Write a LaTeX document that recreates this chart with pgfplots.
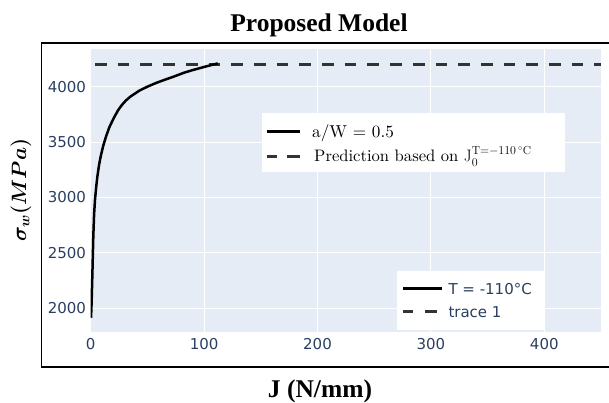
\documentclass[border=0pt]{standalone}
\usepackage{amsmath}
\usepackage{fontspec}
\usepackage{bm}
\usepackage{pgfplots}
\pgfplotsset{compat=1.18}
\newfontfamily\dejavu{DejaVu Sans}
\newfontfamily\libserif{Liberation Serif}
\newfontfamily\lmten{lmroman10-regular.otf}
\definecolor{plotbg}{HTML}{E5ECF6}
\definecolor{ticktext}{HTML}{2A3F5F}
\definecolor{dashc}{HTML}{333333}
\begin{document}
\begin{tikzpicture}[x=1pt,y=1pt]
\path[use as bounding box] (0pt,0pt) rectangle (609pt,403pt);
\begin{axis}[
  at={(90.7pt,71.3pt)}, anchor=south west,
  scale only axis, width=510.3pt, height=282.7pt,
  xmin=0, xmax=450, ymin=1789, ymax=4340,
  xtick={0,100,200,300,400}, ytick={2000,2500,3000,3500,4000},
  axis background/.style={fill=plotbg},
  axis line style={draw=none},
  major tick length=0pt,
  grid=major, major grid style={white, line width=1pt},
  /pgf/number format/assume math mode=true,
  /pgf/number format/1000 sep={},
  tick label style={font=\dejavu\fontsize{15}{18}\selectfont, text=ticktext},
  yticklabel style={inner sep=4.5pt},
  xticklabel style={yshift=-3pt},
]
\addplot[dashc, line width=2.6pt, dash pattern=on 11.7pt off 11pt, dash phase=18.4pt] coordinates {(0,4200) (450,4200)};
\addplot[black, line width=2.5pt, line join=round] coordinates {
(0.3,1915) (0.8,2050) (1.2,2200) (1.7,2400) (2.3,2650) (3.0,2850) (3.8,2980)
(5.0,3110) (5.9,3190) (7.3,3290) (8.8,3370) (11,3465) (13.5,3550) (16.5,3635)
(20,3710) (24,3785) (27.5,3835) (31,3875) (35,3910) (43,3965) (50,4000)
(58,4035) (66,4065) (73,4090) (82,4125) (90,4150) (100,4178) (112,4210)};
\end{axis}
% frame
\draw[line width=1.8pt] (41.5pt,35.7pt) rectangle (620pt,359.7pt);
% title
\node[anchor=base, inner sep=0] at (319pt,371pt) {\libserif\bfseries\fontsize{25.5}{30}\selectfont Proposed Model};
% x label
\node[anchor=base, inner sep=0] at (320pt,5.5pt) {\libserif\bfseries\fontsize{25.5}{30}\selectfont J (N/mm)};
% y label
\node[rotate=90, inner sep=0] at (21pt,213pt) {\fontsize{21}{25}\selectfont $\bm{\sigma_w(MPa)}$};
% legend 1
\fill[white] (261.7pt,231.3pt) rectangle (565pt,290pt);
\draw[black, line width=2.5pt] (266.7pt,271.3pt) -- (300pt,271.3pt);
\draw[dashc, line width=2.5pt] (266.7pt,246.3pt) -- (276.7pt,246.3pt);
\draw[dashc, line width=2.5pt] (287pt,246.3pt) -- (300pt,246.3pt);
\node[anchor=base west, inner sep=0, text=black] at (312pt,265.7pt) {\lmten\fontsize{17.2}{20}\selectfont a/W = 0.5};
\node[anchor=base west, inner sep=0, text=black] at (314pt,241.3pt) {\lmten\fontsize{16.6}{20}\selectfont Prediction based on $\mathrm{J}_0^{\mathrm{T}=-110\,{}^\circ\mathrm{C}}$};
% legend 2
\fill[white] (397pt,73pt) rectangle (544pt,132pt);
\draw[black, line width=2.5pt] (403.3pt,114.7pt) -- (441.7pt,114.7pt);
\draw[dashc, line width=2.5pt] (403pt,91.3pt) -- (413pt,91.3pt);
\draw[dashc, line width=2.5pt] (425pt,91.3pt) -- (437pt,91.3pt);
\node[anchor=base west, inner sep=0, text=ticktext] at (448.3pt,108.7pt) {\dejavu\fontsize{15}{18}\selectfont T = -110°C};
\node[anchor=base west, inner sep=0, text=ticktext] at (448.3pt,85.7pt) {\dejavu\fontsize{15}{18}\selectfont trace 1};
\end{tikzpicture}
\end{document}
